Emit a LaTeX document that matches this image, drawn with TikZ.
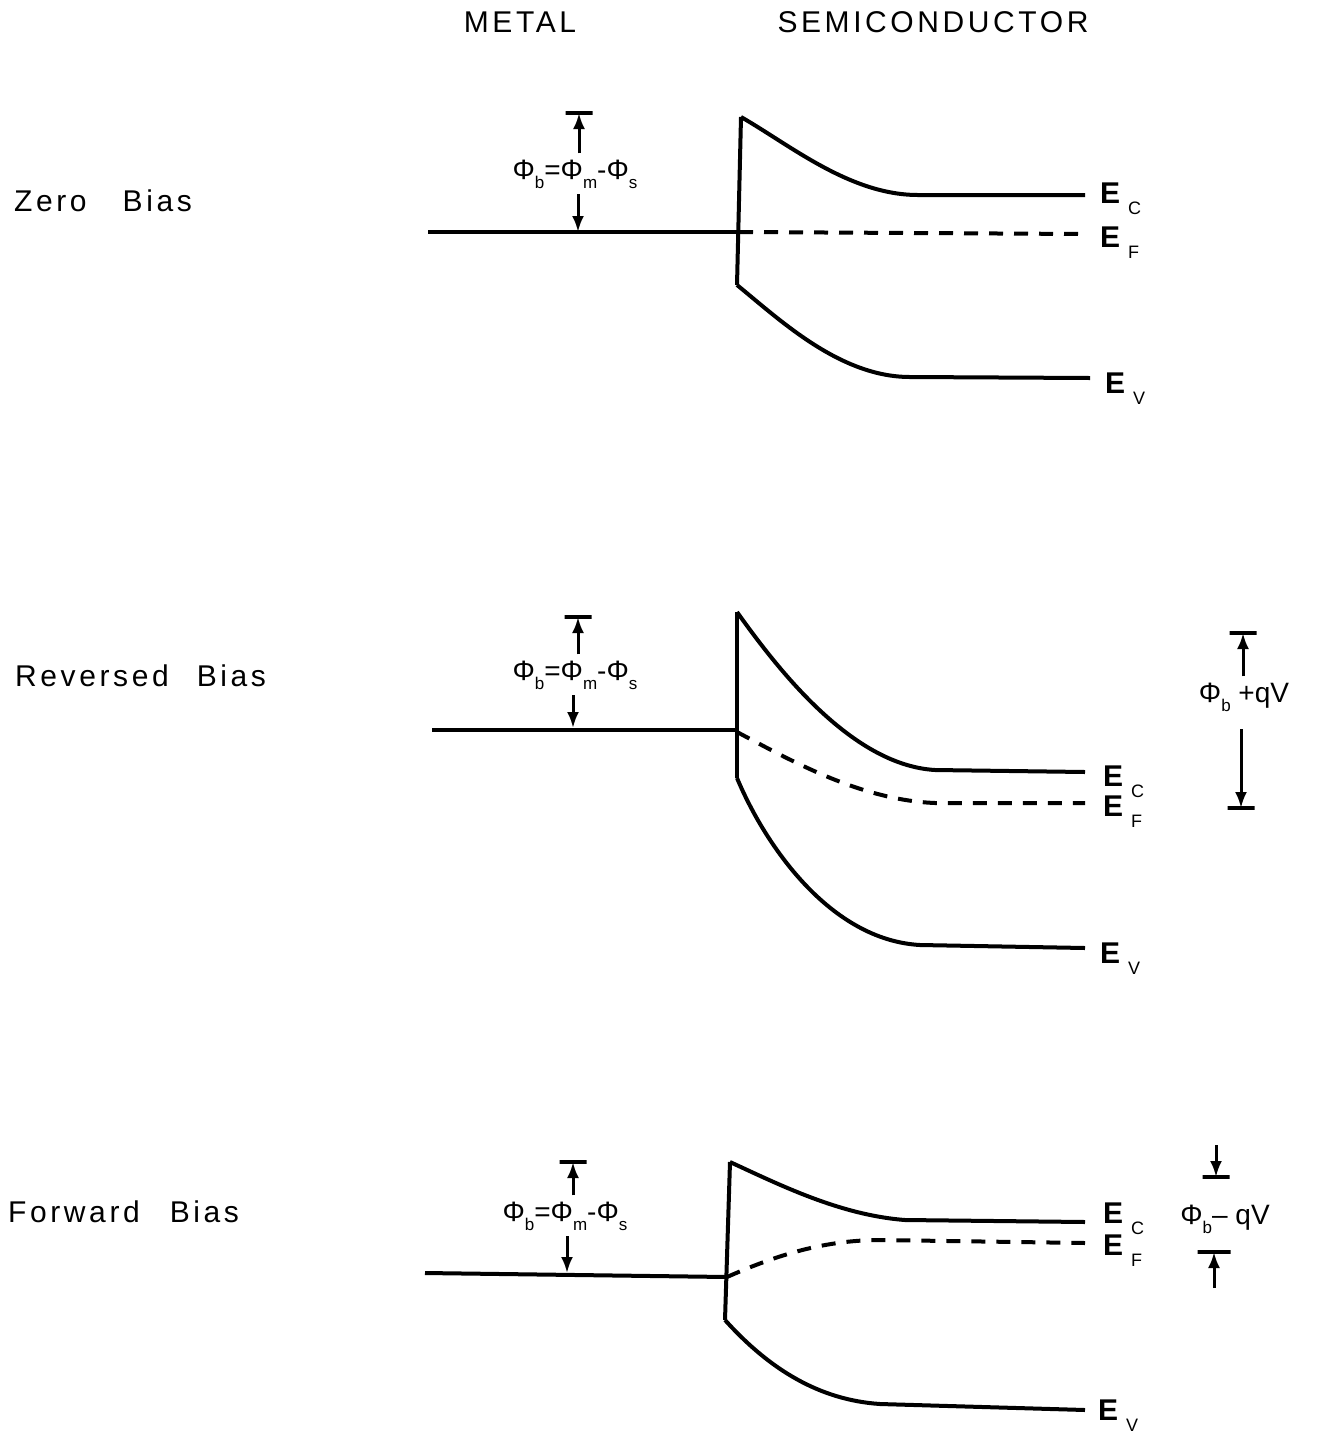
\documentclass[tikz,border=0pt]{standalone}
\usepackage{fontspec}
\setmainfont{Liberation Sans}
\newfontfamily\spacedfont[LetterSpace=12]{Liberation Sans}
\usetikzlibrary{arrows.meta}
\newcommand{\lowsub}[1]{\raisebox{-9pt}{\fontsize{17}{17}\selectfont #1}}
\newcommand{\Elevel}[1]{{\bfseries E}\hspace{8pt}\raisebox{-11pt}{\fontsize{18}{18}\selectfont #1}}
\newcommand{\Phiexpr}{Φ\lowsub{b}=Φ\lowsub{m}-Φ\lowsub{s}}
\tikzset{
  band/.style={line width=4pt, line join=round},
  fermi/.style={line width=4pt, dash pattern=on 14pt off 11pt},
  dimarrow/.style={-{Latex[length=16pt, width=12pt]}, line width=3pt},
  dimbar/.style={draw, line width=4pt, rectangle, minimum width=27pt,
                 minimum height=0pt, inner sep=0pt, outer sep=0pt},
  caption/.style={font=\spacedfont\fontsize{30}{34}\selectfont, inner sep=0pt},
  elbl/.style={font=\fontsize{30}{32}\selectfont, anchor=base west, inner sep=0pt},
  philbl/.style={font=\fontsize{28}{30}\selectfont, inner sep=6pt, anchor=base},
}
\begin{document}
\begin{tikzpicture}[x=1pt, y=-1pt]
  \useasboundingbox (0,0) rectangle (1318,1433);
  % headings
  \node[caption] (metal) at (520,22) {METAL};
  \node[caption] (semi) at (933,22) {SEMICONDUCTOR};
  \node[caption, anchor=west] (zero) at (14,201) {Zero\hspace{36pt}Bias};
  \node[caption, anchor=west] (rev) at (15,676) {Reversed\hspace{28pt}Bias};
  \node[caption, anchor=west] (fwd) at (8,1212) {Forward\hspace{30pt}Bias};

  % zero bias
  \coordinate (zm0) at (428,232);
  \coordinate (zm1) at (739,232);
  \coordinate (zc0) at (741,117);
  \coordinate (zc1) at (918,195);
  \coordinate (zc2) at (1085,195);
  \coordinate (zf2) at (1085,234);
  \coordinate (zv0) at (737,285);
  \coordinate (zv1) at (910,377);
  \coordinate (zv2) at (1090,378);
  \draw[band] (zm0) -- (zm1);
  \draw[band] (zc0) -- (zv0);
  \draw[band] (zc0) .. controls +(49,28) and +(-68,0) .. (zc1) -- (zc2);
  \draw[band] (zv0) .. controls +(43,35) and +(-70,0) .. (zv1) -- (zv2);
  \draw[fermi] (zm1) -- (zf2);
  \node[elbl] (zEc) at (1100,203) {\Elevel{C}};
  \node[elbl] (zEf) at (1100,247) {\Elevel{F}};
  \node[elbl] (zEv) at (1105,393) {\Elevel{V}};
  \node[dimbar] (zbar) at (579,113) {};
  \coordinate (zfoot) at (578,232);
  \node[philbl] (zphi) at (575,179) {\Phiexpr};
  \draw[dimarrow] (zphi.north -| zbar) -- (zbar);
  \draw[dimarrow] (zphi.south -| zfoot) -- (zfoot);

  % reversed bias
  \coordinate (rm0) at (432,730);
  \coordinate (rm1) at (737,730);
  \coordinate (rc0) at (737,612);
  \coordinate (rc1) at (935,770);
  \coordinate (rc2) at (1085,772);
  \coordinate (rf0) at (737,732);
  \coordinate (rf1) at (935,803);
  \coordinate (rf2) at (1085,803);
  \coordinate (rv0) at (737,778);
  \coordinate (rv1) at (920,945);
  \coordinate (rv2) at (1085,948);
  \draw[band] (rm0) -- (rm1);
  \draw[band] (rc0) -- (rv0);
  \draw[band] (rc0) .. controls +(38,53) and +(-85,-5) .. (rc1) -- (rc2);
  \draw[fermi] (rf0) .. controls +(53,28) and +(-75,-3) .. (rf1) -- (rf2);
  \draw[band] (rv0) .. controls +(28,67) and +(-90,-5) .. (rv1) -- (rv2);
  \node[elbl] (rEc) at (1103,786) {\Elevel{C}};
  \node[elbl] (rEf) at (1103,816) {\Elevel{F}};
  \node[elbl] (rEv) at (1100,963) {\Elevel{V}};
  \node[dimbar] (rbar) at (578,617) {};
  \coordinate (rfoot) at (573,728);
  \node[philbl] (rphi) at (575,680) {\Phiexpr};
  \draw[dimarrow] (rphi.north -| rbar) -- (rbar);
  \draw[dimarrow] (rphi.south -| rfoot) -- (rfoot);
  % barrier plus bias
  \node[dimbar] (rtop) at (1243,633) {};
  \node[dimbar] (rbot) at (1241,808) {};
  \node[philbl] (rqv) at (1244,702) {Φ\lowsub{b} +qV};
  \draw[dimarrow] (rqv.north -| rtop) -- (rtop);
  \draw[dimarrow, shorten <=12pt] (rqv.south -| rbot) -- (rbot);

  % forward bias
  \coordinate (fm0) at (425,1273);
  \coordinate (fm1) at (727,1277);
  \coordinate (fc0) at (730,1162);
  \coordinate (fc1) at (905,1220);
  \coordinate (fc2) at (1085,1222);
  \coordinate (ff1) at (880,1240);
  \coordinate (ff2) at (1085,1243);
  \coordinate (fv0) at (725,1320);
  \coordinate (fv1) at (880,1404);
  \coordinate (fv2) at (1085,1410);
  \draw[band] (fm0) -- (fm1);
  \draw[band] (fc0) -- (fv0);
  \draw[band] (fc0) .. controls +(50,23) and +(-65,-5) .. (fc1) -- (fc2);
  \draw[fermi] (fm1) .. controls +(43,-19) and +(-60,0) .. (ff1) -- (ff2);
  \draw[band] (fv0) .. controls +(45,50) and +(-60,-4) .. (fv1) -- (fv2);
  \node[elbl] (fEc) at (1103,1223) {\Elevel{C}};
  \node[elbl] (fEf) at (1103,1255) {\Elevel{F}};
  \node[elbl] (fEv) at (1098,1420) {\Elevel{V}};
  \node[dimbar] (fbar) at (573,1162) {};
  \coordinate (ffoot) at (567,1273);
  \node[philbl] (fphi) at (565,1221) {\Phiexpr};
  \draw[dimarrow] (fphi.north -| fbar) -- (fbar);
  \draw[dimarrow] (fphi.south -| ffoot) -- (ffoot);
  % barrier minus bias
  \node[dimbar] (ftop) at (1216,1177) {};
  \node[dimbar, minimum width=33pt] (fbot) at (1214,1252) {};
  \coordinate (fin1) at (1216,1145);
  \coordinate (fin2) at (1214,1288);
  \node[philbl] (fqv) at (1225,1224) {Φ\lowsub{b}– qV};
  \draw[dimarrow] (fin1) -- (ftop);
  \draw[dimarrow] (fin2) -- (fbot);
\end{tikzpicture}
\end{document}
